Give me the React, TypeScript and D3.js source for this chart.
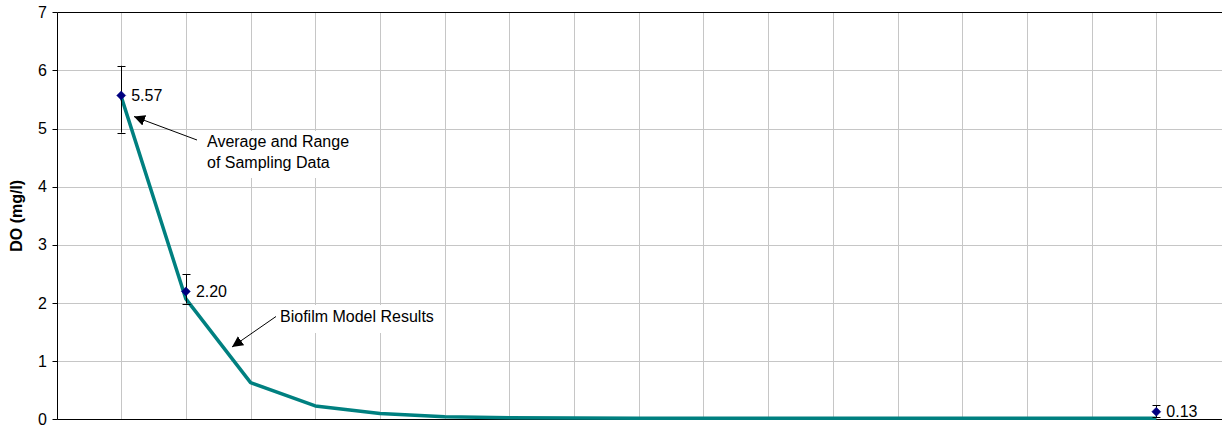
import React from "react";
import * as d3 from "d3";

// Station index along the reach (0..18 grid), model and sampling values
const modelStations = [1, 2, 3, 4, 5, 6, 7, 8, 9, 10, 11, 12, 13, 14, 15, 16, 17];
const modelDO = [5.55, 2.07, 0.63, 0.23, 0.1, 0.045, 0.028, 0.022, 0.02, 0.018, 0.017, 0.017, 0.017, 0.017, 0.017, 0.017, 0.017];

const sampleStations = [1, 2, 17];
const sampleAvg = [5.57, 2.2, 0.13];
const sampleMin = [4.93, 1.99, 0.04];
const sampleMax = [6.08, 2.5, 0.24];

const yTicks = [0, 1, 2, 3, 4, 5, 6, 7];
const xGrid = d3.range(1, 18);

const W = 1222;
const H = 427;
const FONT = "Arial, 'Liberation Sans', sans-serif";

export default function App() {
  const x = d3.scaleLinear().domain([0, 18]).range([56.5, 1221]);
  const y = d3.scaleLinear().domain([0, 7]).range([419.3, 12.3]);
  const crisp = (v: number) => Math.round(v) + 0.5;

  const line = d3
    .line<number>()
    .x((_, i) => x(modelStations[i]))
    .y((d) => y(d))
    .curve(d3.curveLinear);

  const diamond = (cx: number, cy: number, r: number) =>
    `M${cx},${cy - r}L${cx + r},${cy}L${cx},${cy + r}L${cx - r},${cy}Z`;

  const x0 = crisp(x(0));
  const yBase = crisp(y(0));
  const yTop = crisp(y(7));

  return (
    <svg
      width={W}
      height={H}
      style={{ position: "absolute", left: 0, top: 0, background: "#fff" }}
      fontFamily={FONT}
    >
      <defs>
        <marker
          id="arrowHead"
          viewBox="0 0 10 10"
          refX="10"
          refY="5"
          markerWidth="11"
          markerHeight="11"
          markerUnits="userSpaceOnUse"
          orient="auto"
        >
          <path d="M0,0L10,5L0,10Z" fill="#000" />
        </marker>
      </defs>

      {/* grid */}
      <g stroke="#c6c6c6" strokeWidth={1}>
        {xGrid.map((v) => (
          <line key={"gx" + v} x1={crisp(x(v))} x2={crisp(x(v))} y1={yTop} y2={yBase} />
        ))}
        {yTicks.slice(1, -1).map((v) => (
          <line key={"gy" + v} x1={x0} x2={W} y1={crisp(y(v))} y2={crisp(y(v))} />
        ))}
      </g>

      {/* annotation boxes */}
      <rect x={200} y={131} width={162} height={47} fill="#fff" />
      <rect x={275} y={305} width={165} height={28} fill="#fff" />

      {/* plot frame */}
      <g stroke="#000" strokeWidth={1}>
        <line x1={x0} x2={W} y1={yTop} y2={yTop} />
        <line x1={x0} x2={W} y1={yBase} y2={yBase} />
        <line x1={x0} x2={x0} y1={yTop} y2={yBase} />
        {yTicks.map((v) => (
          <line key={"t" + v} x1={x0 - 5} x2={x0} y1={crisp(y(v))} y2={crisp(y(v))} />
        ))}
      </g>

      {/* y tick labels */}
      <g fontSize={16} fill="#000" textAnchor="end">
        {yTicks.map((v) => (
          <text key={"l" + v} x={47} y={y(v)} dy="0.35em">
            {v}
          </text>
        ))}
      </g>

      <text
        transform={`translate(22,${(y(0) + y(7)) / 2}) rotate(-90)`}
        textAnchor="middle"
        fontSize={16}
        fontWeight="bold"
      >
        DO (mg/l)
      </text>

      {/* model line */}
      <path d={line(modelDO) || ""} fill="none" stroke="#008080" strokeWidth={3.5} strokeLinejoin="round" />

      {/* sampling range bars */}
      <g stroke="#000" strokeWidth={1}>
        {sampleStations.map((s, i) => {
          const cx = crisp(x(s));
          return (
            <g key={"e" + i}>
              <line x1={cx} x2={cx} y1={y(sampleMin[i])} y2={y(sampleMax[i])} />
              <line x1={cx - 4} x2={cx + 4} y1={crisp(y(sampleMin[i]))} y2={crisp(y(sampleMin[i]))} />
              <line x1={cx - 4} x2={cx + 4} y1={crisp(y(sampleMax[i]))} y2={crisp(y(sampleMax[i]))} />
            </g>
          );
        })}
      </g>

      {/* sampling averages */}
      {sampleStations.map((s, i) => (
        <path key={"d" + i} d={diamond(x(s), y(sampleAvg[i]), 4.5)} fill="#000080" stroke="#000080" strokeWidth={0.5} />
      ))}

      {/* value labels */}
      <g fontSize={16} fill="#000">
        {sampleStations.map((s, i) => (
          <text key={"v" + i} x={x(s) + 10} y={y(sampleAvg[i])} dy="0.35em">
            {sampleAvg[i].toFixed(2)}
          </text>
        ))}
      </g>

      {/* annotations */}
      <g fontSize={16} fill="#000">
        <text x={207} y={147}>Average and Range</text>
        <text x={207} y={168}>of Sampling Data</text>
        <text x={280} y={322}>Biofilm Model Results</text>
      </g>
      <g stroke="#000" strokeWidth={1}>
        <line x1={197} y1={140} x2={134} y2={116.5} markerEnd="url(#arrowHead)" />
        <line x1={276} y1={316.5} x2={232} y2={347} markerEnd="url(#arrowHead)" />
      </g>
    </svg>
  );
}
